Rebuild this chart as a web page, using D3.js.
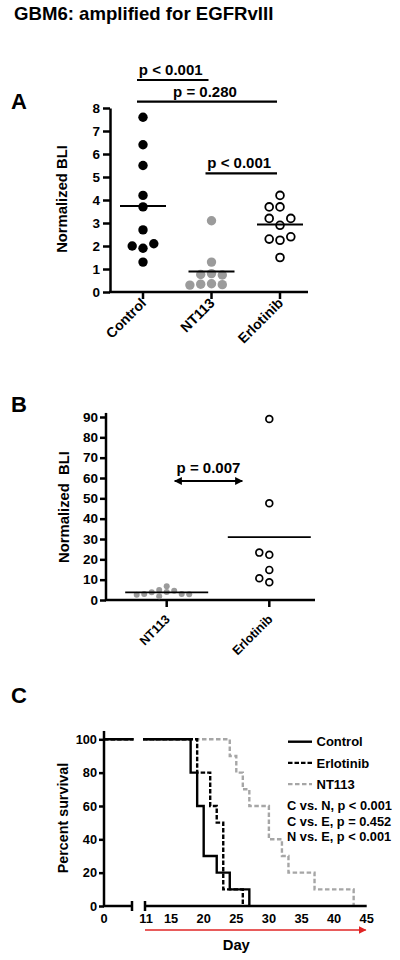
<!DOCTYPE html>
<html lang="en">
<head>
  <meta charset="UTF-8">
  <title>GBM6</title>
  <style>
    body { margin: 0; background: #fff; }
    svg text { font-family: "Liberation Sans", Arial, sans-serif; font-weight: bold; fill: #000; }
  </style>
</head>
<body>
  <svg width="400" height="960"></svg>
  <script src="https://d3js.org/d3.v7.min.js"></script>
  <script>
    // ---- data ----
    const title = 'GBM6: amplified for EGFRvIII';

    // panel A
    const groupsA = ['Control', 'NT113', 'Erlotinib'];
    const controlA = [7.6, 6.4, 5.5, 4.2, 3.7, 2.7, 1.9, 2.0, 2.1, 1.3];
    const nt113A = [3.1, 1.3, 0.8, 0.76, 0.74, 0.36, 0.34, 0.32, 0.3];
    const erlotinibA = [4.2, 3.7, 3.7, 2.9, 3.2, 3.2, 2.25, 2.3, 2.4, 1.5];
    const ticksA = [0, 1, 2, 3, 4, 5, 6, 7, 8];
    const compA = [
      { from: 'Control', to: 'NT113', label: 'p < 0.001' },
      { from: 'Control', to: 'Erlotinib', label: 'p = 0.280' },
      { from: 'NT113', to: 'Erlotinib', label: 'p < 0.001' }
    ];

    // panel B
    const groupsB = ['NT113', 'Erlotinib'];
    const nt113B = [6.8, 4.9, 4.6, 3.9, 3.8, 3.0, 2.9, 2.8, 2.6, 1.8];
    const erlotinibB = [89, 47.6, 22.2, 23.3, 14.8, 8.7, 10.7];
    const ticksB = [0, 10, 20, 30, 40, 50, 60, 70, 80, 90];
    const compB = { label: 'p = 0.007' };

    // panel C (day, percent survival)
    const controlC = [[0, 100], [18, 80], [19, 60], [20, 30], [22, 20], [24, 10], [27, 0]];
    const erlotinibC = [[0, 100], [19, 80], [21, 60], [22, 50], [23, 10], [26, 0]];
    const nt113C = [[0, 100], [24, 90], [25, 80], [26, 70], [27, 60], [30, 40], [32, 30], [33, 20], [37, 10], [43, 0]];
    const ticksCy = [0, 20, 40, 60, 80, 100];
    const ticksCx = [0, 11, 15, 20, 25, 30, 35, 40, 45];
    const legendC = ['Control', 'Erlotinib', 'NT113'];
    const statsC = ['C vs. N, p < 0.001', 'C vs. E, p = 0.452', 'N vs. E, p < 0.001'];

    const svg = d3.select('svg');
    const GREY = '#9b9b9b';

    // greedy swarm so that points in the same row sit side by side
    function swarm(vals, y, cx, r, step) {
      const placed = [];
      const cands = [0, -1, 1, -2, 2, -3, 3, -4, 4, -5, 5];
      return vals.map(v => {
        const py = y(v);
        for (const k of cands) {
          const px = cx + k * step;
          if (placed.every(p => Math.hypot(p.x - px, p.y - py) >= 2 * r - 0.5)) {
            const pt = { x: px, y: py, v };
            placed.push(pt);
            return pt;
          }
        }
      });
    }

    svg.append('text').attr('x', 14).attr('y', 20).style('font-size', '18.6px').text(title);

    const panelLetter = (t, y) => svg.append('text').attr('x', 11).attr('y', y)
      .style('font-size', '22px').text(t);
    panelLetter('A', 109);
    panelLetter('B', 412);
    panelLetter('C', 703);

    // ================= A =================
    const yA = d3.scaleLinear().domain([0, 8]).range([292, 108]);
    const xA = d3.scalePoint().domain(groupsA).range([143, 280]);
    const gA = svg.append('g');

    gA.append('g').attr('transform', 'translate(110,0)')
      .call(d3.axisLeft(yA).tickValues(ticksA).tickSize(7).tickSizeOuter(0).tickPadding(3))
      .call(g => g.selectAll('path,line').attr('stroke', '#000').attr('stroke-width', 2.5))
      .call(g => g.selectAll('text').style('font-size', '13.5px').style('font-family', null));
    gA.append('line').attr('x1', 109).attr('x2', 308).attr('y1', 292).attr('y2', 292)
      .attr('stroke', '#000').attr('stroke-width', 2.5);
    gA.selectAll('.xt').data(groupsA).join('line')
      .attr('x1', d => xA(d)).attr('x2', d => xA(d)).attr('y1', 292).attr('y2', 299)
      .attr('stroke', '#000').attr('stroke-width', 2.5);
    gA.selectAll('.xl').data(groupsA).join('text')
      .attr('transform', d => `translate(${xA(d) + 4},${304}) rotate(-45)`)
      .attr('text-anchor', 'end').style('font-size', '14px').text(d => d);

    gA.append('text').attr('transform', 'translate(67,199) rotate(-90)')
      .attr('text-anchor', 'middle').style('font-size', '14.8px').text('Normalized BLI');

    const seriesA = [
      { g: 'Control', vals: controlA, fill: '#000', stroke: 'none' },
      { g: 'NT113', vals: nt113A, fill: GREY, stroke: 'none' },
      { g: 'Erlotinib', vals: erlotinibA, fill: '#fff', stroke: '#000' }
    ];
    seriesA.forEach(s => {
      const r = s.stroke === 'none' ? 4.7 : 3.9;
      const pts = swarm(s.vals, yA, xA(s.g), 4.7, 10.8);
      gA.append('g').selectAll('circle').data(pts).join('circle')
        .attr('cx', d => d.x).attr('cy', d => d.y).attr('r', r)
        .attr('fill', s.fill).attr('stroke', s.stroke).attr('stroke-width', 1.8);
      const m = d3.mean(s.vals);
      gA.append('line').attr('x1', xA(s.g) - 23).attr('x2', xA(s.g) + 23)
        .attr('y1', yA(m)).attr('y2', yA(m)).attr('stroke', '#000').attr('stroke-width', 2);
    });

    const levelsA = [80, 101.7, 173.3];
    compA.forEach((c, i) => {
      const x1 = xA(c.from) - 6, x2 = xA(c.to) - 3;
      gA.append('line').attr('x1', x1).attr('x2', x2).attr('y1', levelsA[i]).attr('y2', levelsA[i])
        .attr('stroke', '#000').attr('stroke-width', 2.2);
      gA.append('text').attr('x', (x1 + x2) / 2 - 2).attr('y', levelsA[i] - 5)
        .attr('text-anchor', 'middle').style('font-size', '15px').text(c.label);
    });

    // ================= B =================
    const yB = d3.scaleLinear().domain([0, 90]).range([600, 417]);
    const xB = d3.scalePoint().domain(groupsB).range([166.7, 269.3]);
    const gB = svg.append('g');

    gB.append('g').attr('transform', 'translate(106,0)')
      .call(d3.axisLeft(yB).tickValues(ticksB).tickSize(6).tickSizeOuter(0).tickPadding(2))
      .call(g => g.select('.domain').attr('d', `M0,${yB(0)}V${yB(92)}`))
      .call(g => g.selectAll('path,line').attr('stroke', '#000').attr('stroke-width', 2.5))
      .call(g => g.selectAll('text').style('font-size', '13.5px').style('font-family', null));
    gB.append('line').attr('x1', 105).attr('x2', 315).attr('y1', 600).attr('y2', 600)
      .attr('stroke', '#000').attr('stroke-width', 2.5);
    gB.selectAll('.xt').data(groupsB).join('line')
      .attr('x1', d => xB(d)).attr('x2', d => xB(d)).attr('y1', 600).attr('y2', 607)
      .attr('stroke', '#000').attr('stroke-width', 2.5);
    gB.selectAll('.xl').data(groupsB).join('text')
      .attr('transform', d => `translate(${xB(d) + 4},${620}) rotate(-45)`)
      .attr('text-anchor', 'end').style('font-size', '12.5px').text(d => d);

    gB.append('text').attr('transform', 'translate(69,507) rotate(-90)')
      .attr('text-anchor', 'middle').style('font-size', '14.8px').style('white-space', 'pre')
      .text('Normalized  BLI');

    const seriesB = [
      { g: 'NT113', vals: nt113B, fill: GREY, stroke: 'none', r: 3, step: 7.5 },
      { g: 'Erlotinib', vals: erlotinibB, fill: '#fff', stroke: '#000', r: 4, step: 10 }
    ];
    seriesB.forEach(s => {
      const pts = swarm(s.vals, yB, xB(s.g), s.r, s.step);
      gB.append('g').selectAll('circle').data(pts).join('circle')
        .attr('cx', d => d.x).attr('cy', d => d.y).attr('r', s.stroke === 'none' ? s.r : s.r - 0.6)
        .attr('fill', s.fill).attr('stroke', s.stroke).attr('stroke-width', 1.7);
      const m = d3.mean(s.vals);
      gB.append('line').attr('x1', xB(s.g) - 41.5).attr('x2', xB(s.g) + 41.5)
        .attr('y1', yB(m)).attr('y2', yB(m)).attr('stroke', '#000').attr('stroke-width', 1.8);
    });

    const defs = svg.append('defs');
    defs.append('marker').attr('id', 'ah').attr('viewBox', '0 0 10 10').attr('refX', 9).attr('refY', 5)
      .attr('markerWidth', 4).attr('markerHeight', 4).attr('orient', 'auto-start-reverse')
      .append('path').attr('d', 'M0,0L10,5L0,10z').attr('fill', '#000');
    const arrY = 481;
    const ax1 = xB('NT113') + 6, ax2 = xB('Erlotinib') - 25;
    gB.append('line').attr('x1', ax1 + 2).attr('x2', ax2 - 2).attr('y1', arrY).attr('y2', arrY)
      .attr('stroke', '#000').attr('stroke-width', 2)
      .attr('marker-start', 'url(#ah)').attr('marker-end', 'url(#ah)');
    gB.append('text').attr('x', (ax1 + ax2) / 2).attr('y', arrY - 8)
      .attr('text-anchor', 'middle').style('font-size', '15px').text(compB.label);

    // ================= C =================
    const yC = d3.scaleLinear().domain([0, 100]).range([906, 739.3]);
    const xC = d3.scaleLinear().domain([0, 10, 11, 45]).range([104, 132, 145, 366.7]);
    const gC = svg.append('g');

    const segs = [[100, 133.5], [143, 370]];
    segs.forEach((s, i) => {
      defs.append('clipPath').attr('id', 'seg' + i)
        .append('rect').attr('x', s[0]).attr('y', 700).attr('width', s[1] - s[0]).attr('height', 220);
    });

    const line = d3.line().x(d => xC(d[0])).y(d => yC(d[1])).curve(d3.curveStepAfter);
    const seriesC = [
      { data: nt113C, stroke: '#a6a6a6', dash: '4.5,2.5' },
      { data: erlotinibC, stroke: '#000', dash: '4.5,2' },
      { data: controlC, stroke: '#000', dash: null }
    ];
    segs.forEach((s, i) => {
      const g = gC.append('g').attr('clip-path', `url(#seg${i})`);
      seriesC.forEach(c => {
        g.append('path').attr('d', line(c.data)).attr('fill', 'none')
          .attr('stroke', c.stroke).attr('stroke-width', 2.4).attr('stroke-dasharray', c.dash);
      });
    });

    // y axis
    gC.append('g').attr('transform', 'translate(104,0)')
      .call(d3.axisLeft(yC).tickValues(ticksCy).tickSize(5).tickSizeOuter(0).tickPadding(2))
      .call(g => g.select('.domain').attr('d', `M0,${yC(0)}V${yC(105)}`))
      .call(g => g.selectAll('path,line').attr('stroke', '#000').attr('stroke-width', 2.5))
      .call(g => g.selectAll('text').style('font-size', '12.8px').style('font-family', null));

    // broken x axis
    [[0, 10], [11, 45]].forEach(d => {
      gC.append('line').attr('x1', xC(d[0]) - 1).attr('x2', xC(d[1])).attr('y1', 906).attr('y2', 906)
        .attr('stroke', '#000').attr('stroke-width', 2.5);
    });
    [10, 11].forEach(d => {
      gC.append('line').attr('x1', xC(d)).attr('x2', xC(d)).attr('y1', 901).attr('y2', 911)
        .attr('stroke', '#000').attr('stroke-width', 2.5);
    });
    gC.selectAll('.xl').data(ticksCx).join('text')
      .attr('x', d => xC(d) + (d === 11 ? 1 : 0)).attr('y', 923).attr('text-anchor', 'middle')
      .style('font-size', '12.8px').text(d => d);

    gC.append('text').attr('transform', 'translate(68,818) rotate(-90)')
      .attr('text-anchor', 'middle').style('font-size', '14.3px').text('Percent survival');
    gC.append('text').attr('x', xC(25)).attr('y', 950).attr('text-anchor', 'middle')
      .style('font-size', '14.8px').text('Day');

    // red arrow under the treatment window
    defs.append('marker').attr('id', 'rh').attr('viewBox', '0 0 10 10').attr('refX', 9).attr('refY', 5)
      .attr('markerWidth', 5).attr('markerHeight', 5).attr('orient', 'auto')
      .append('path').attr('d', 'M0,0L10,5L0,10z').attr('fill', '#e02424');
    gC.append('line').attr('x1', xC(11)).attr('x2', xC(45) - 1).attr('y1', 930).attr('y2', 930)
      .attr('stroke', '#e02424').attr('stroke-width', 1.6).attr('marker-end', 'url(#rh)');

    // legend
    legendC.forEach((name, i) => {
      const s = seriesC[2 - i];
      const ly = 741.7 + i * 21.2;
      gC.append('line').attr('x1', 288).attr('x2', 312).attr('y1', ly).attr('y2', ly)
        .attr('stroke', s.stroke).attr('stroke-width', 2.4).attr('stroke-dasharray', s.dash);
      gC.append('text').attr('x', 316.5).attr('y', ly + 4.6).style('font-size', '13px').text(name);
    });
    statsC.forEach((t, i) => {
      gC.append('text').attr('x', 287).attr('y', 809.6 + i * 15.9).style('font-size', '12.8px').text(t);
    });
  </script>
</body>
</html>
